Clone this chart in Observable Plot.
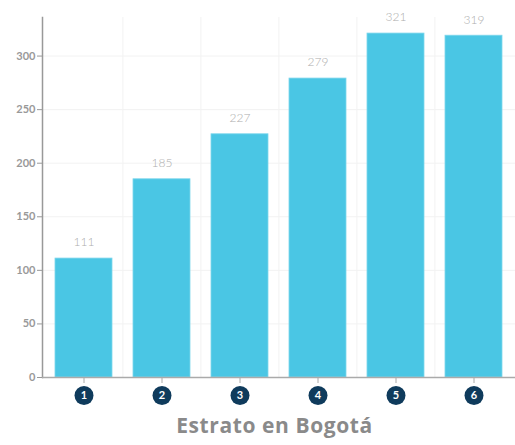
<!DOCTYPE html>
<html>
<head>
<meta charset="utf-8">
<script src="https://cdn.jsdelivr.net/npm/d3@7"></script>
<script src="https://cdn.jsdelivr.net/npm/@observablehq/plot@0.6"></script>
<style>
  body { margin: 0; background: #fff; font-family: "Lato", sans-serif; }
  #title { width: 515px; text-align: center; padding-left: 34px; box-sizing: border-box; font: bold 21px "Open Sans", sans-serif; letter-spacing: 0.6px; color: #8a8a8a; margin-top: 4px; }
</style>
</head>
<body>
<div id="chart"></div>
<div id="title">Estrato en Bogotá</div>
<script>
const categories = ["1", "2", "3", "4", "5", "6"];
const values = [111, 185, 227, 279, 321, 319];
const yTicks = [0, 50, 100, 150, 200, 250, 300];

const data = categories.map((c, i) => ({estrato: c, value: values[i]}));

const W = 515, ML = 42, MR = 0;
const PI = 0.275, PO = 0.16;
const step = (W - ML - MR) / (categories.length - PI + 2 * PO);

const plot = Plot.plot({
  width: W,
  height: 407,
  marginLeft: ML,
  marginRight: MR,
  marginTop: 17,
  marginBottom: 30,
  style: {fontFamily: "Lato, sans-serif", background: "#fff", overflow: "visible"},
  x: {domain: categories, paddingInner: PI, paddingOuter: PO, label: null},
  y: {domain: [0, 336], label: null},
  marks: [
    Plot.ruleY(yTicks, {stroke: "#f2f2f2", strokeWidth: 1}),
    Plot.ruleX(categories.slice(1), {x: d => d, dx: -step / 2, stroke: "#f2f2f2", strokeWidth: 1}),
    Plot.barY(data, {x: "estrato", y: "value", fill: "#4ac6e4", stroke: "#7dd6ec", strokeWidth: 0.8}),
    Plot.text(data, {x: "estrato", y: "value", text: d => String(d.value), dy: -16, fill: "#adadad", fontSize: 12, fontWeight: 300}),
    Plot.axisY({ticks: yTicks, tickSize: 5, tickPadding: 2, fontSize: 11, fontWeight: "bold", color: "#999", stroke: "#999", label: null}),
    Plot.axisX({tickSize: 6, tickFormat: () => "", stroke: "#aaa", label: null}),
    Plot.frame({anchor: "left", stroke: "#999", strokeWidth: 1.5}),
    Plot.ruleY([0], {stroke: "#aaa", strokeWidth: 1.5}),
    Plot.dot(data, {x: "estrato", y: 0, dy: 18, r: 9.5, fill: "#0f3b5c", stroke: null}),
    Plot.text(data, {x: "estrato", y: 0, dy: 18, text: "estrato", fill: "#fff", fontSize: 11, fontWeight: "bold"})
  ]
});
document.getElementById("chart").append(plot);
</script>
</body>
</html>
